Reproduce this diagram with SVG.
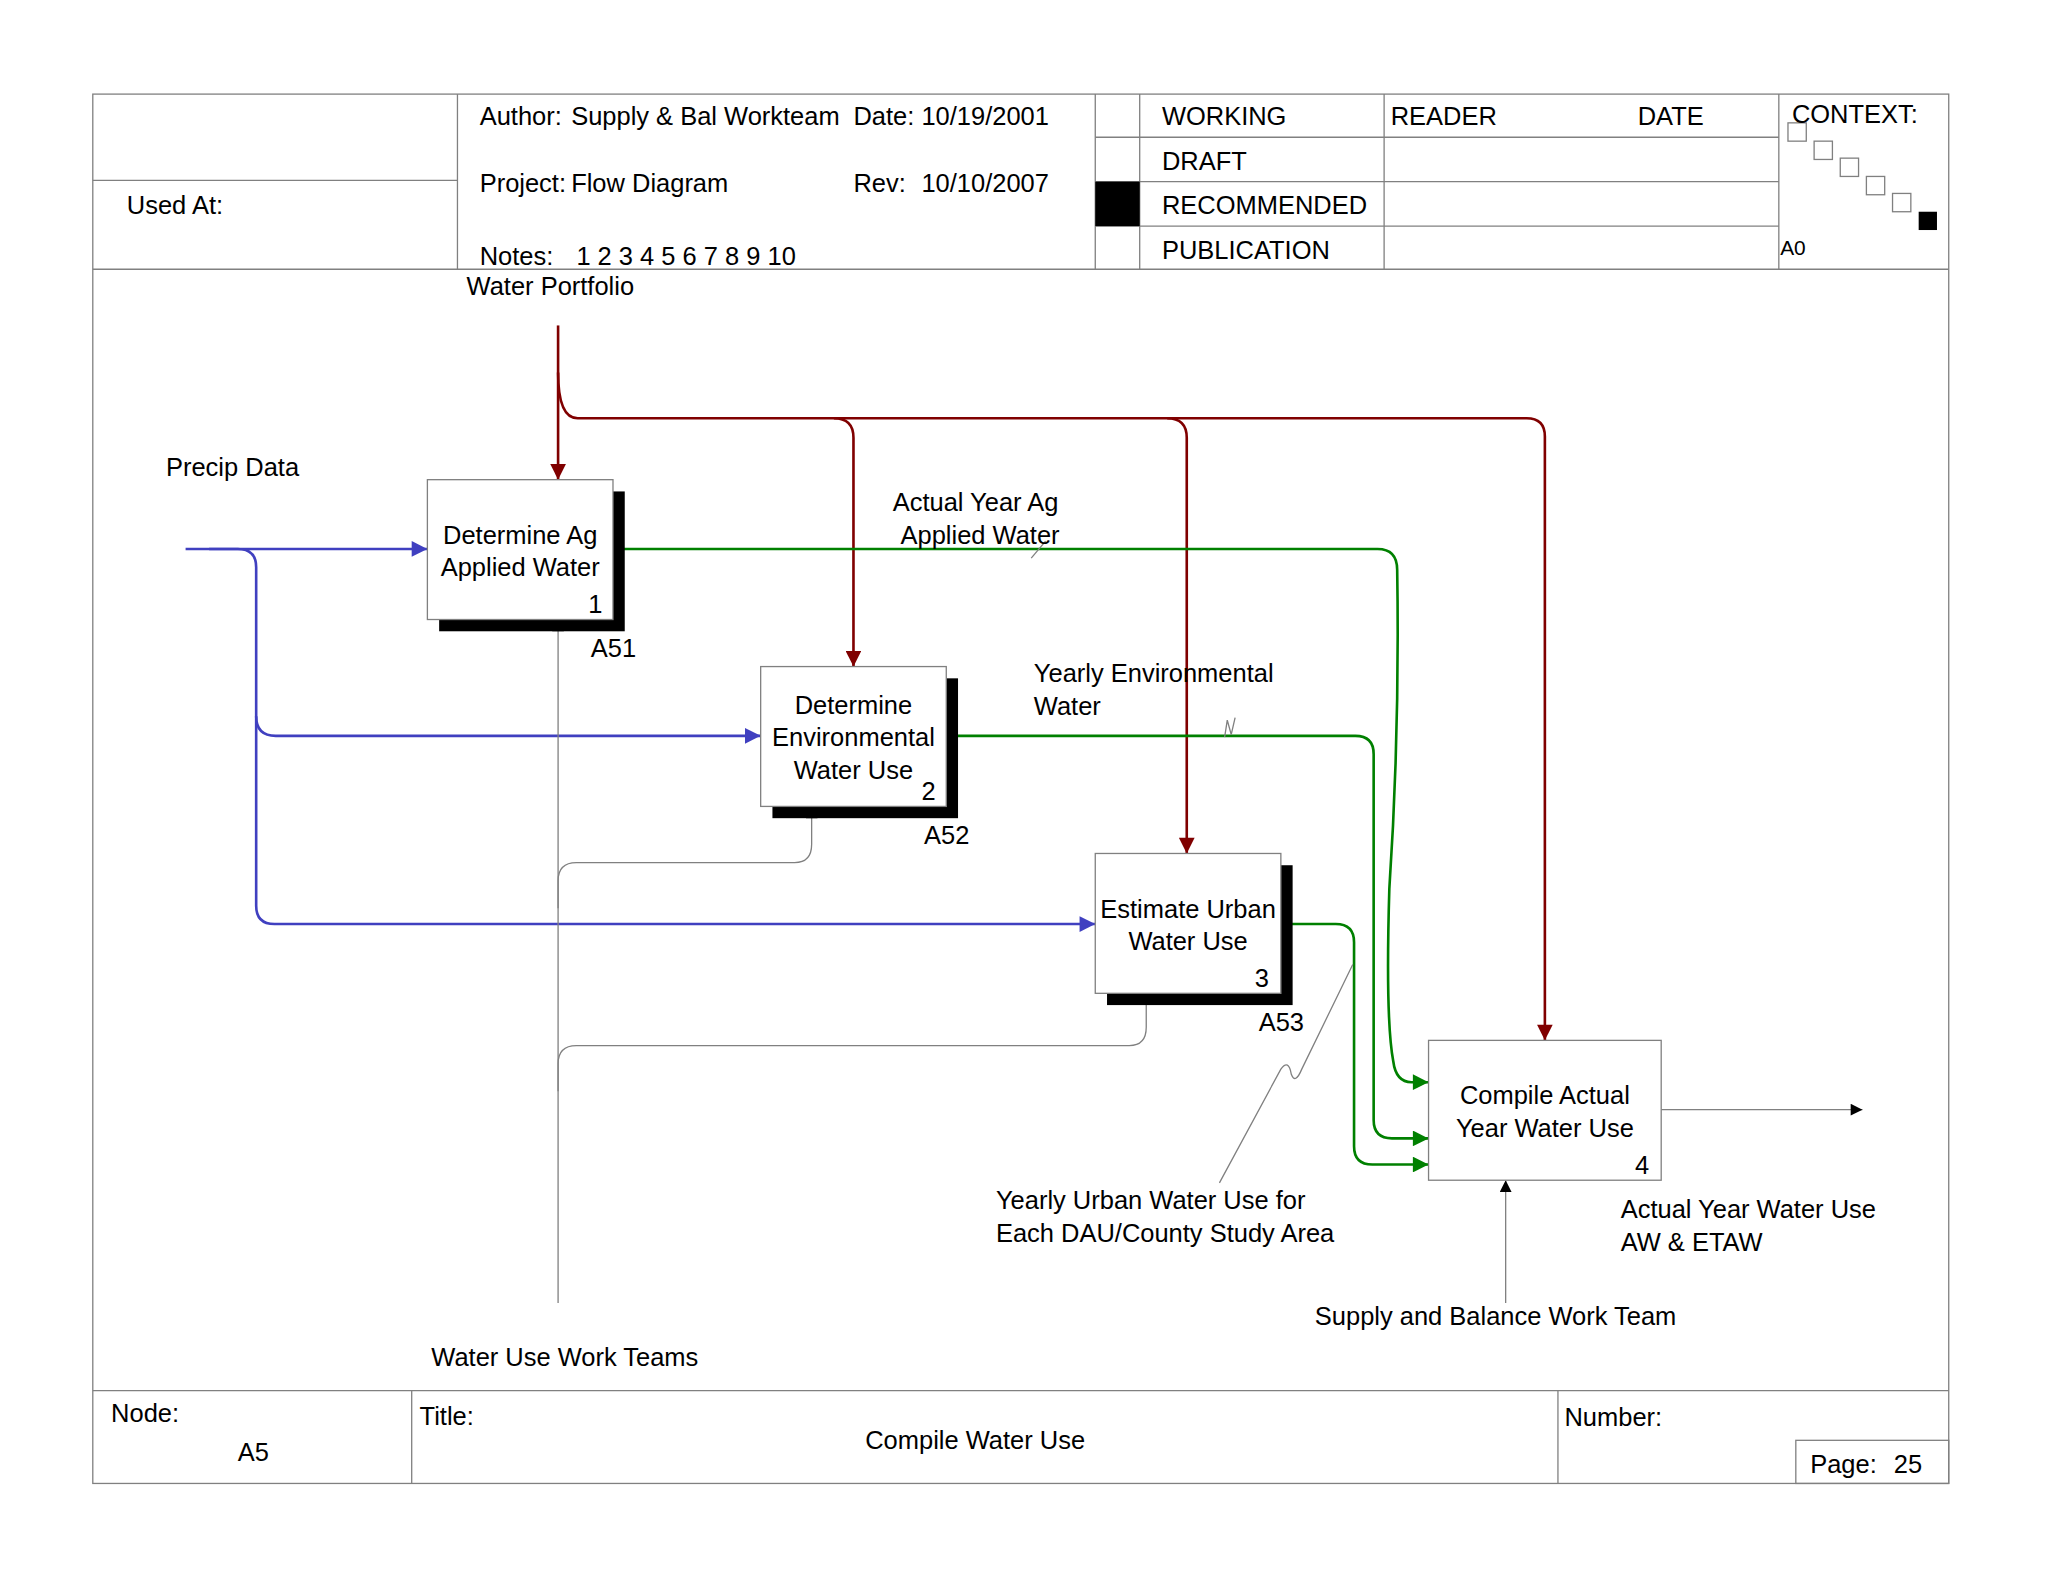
<svg xmlns="http://www.w3.org/2000/svg" width="2048" height="1582" viewBox="0 0 2048 1582">
<style>
text{font-family:"Liberation Sans",Arial,sans-serif;font-size:19.5px;fill:#000}
.c{text-anchor:middle}
.fr{fill:none;stroke:#808080;stroke-width:1}
.box{fill:#fff;stroke:#808080;stroke-width:1}
.red{fill:none;stroke:#800000;stroke-width:2}
.blue{fill:none;stroke:#4040C0;stroke-width:2}
.green{fill:none;stroke:#008000;stroke-width:2}
.gray{fill:none;stroke:#808080;stroke-width:1}
</style>
<defs>
<marker id="ar" viewBox="0 0 10 10" refX="10" refY="5" markerWidth="14" markerHeight="12" markerUnits="userSpaceOnUse" orient="auto"><path d="M0,0L10,5L0,10z" fill="#800000"/></marker>
<marker id="ab" viewBox="0 0 10 10" refX="10" refY="5" markerWidth="14" markerHeight="12" markerUnits="userSpaceOnUse" orient="auto"><path d="M0,0L10,5L0,10z" fill="#4040C0"/></marker>
<marker id="ag" viewBox="0 0 10 10" refX="10" refY="5" markerWidth="14" markerHeight="12" markerUnits="userSpaceOnUse" orient="auto"><path d="M0,0L10,5L0,10z" fill="#008000"/></marker>
<marker id="ak" viewBox="0 0 10 10" refX="10" refY="5" markerWidth="11" markerHeight="9" markerUnits="userSpaceOnUse" orient="auto"><path d="M0,0L10,5L0,10z" fill="#000"/></marker>
</defs>
<rect width="2048" height="1582" fill="#fff"/>
<g transform="scale(1.307)">
<g id="header">
<rect class="fr" x="71" y="72" width="1420" height="1063"/>
<line class="fr" x1="71" y1="206" x2="1491" y2="206"/>
<line class="fr" x1="71" y1="138" x2="350" y2="138"/>
<line class="fr" x1="350" y1="72" x2="350" y2="206"/>
<line class="fr" x1="838" y1="72" x2="838" y2="206"/>
<line class="fr" x1="872" y1="72" x2="872" y2="206"/>
<line class="fr" x1="1059" y1="72" x2="1059" y2="206"/>
<line class="fr" x1="1361" y1="72" x2="1361" y2="206"/>
<line class="fr" x1="838" y1="105" x2="1361" y2="105"/>
<line class="fr" x1="838" y1="139" x2="1361" y2="139"/>
<line class="fr" x1="838" y1="173" x2="1361" y2="173"/>
<rect x="838" y="139" width="34" height="34" fill="#000"/>
<rect class="fr" x="1368" y="94" width="14" height="14"/>
<rect class="fr" x="1388" y="108" width="14" height="14"/>
<rect class="fr" x="1408" y="121" width="14" height="14"/>
<rect class="fr" x="1428" y="135" width="14" height="14"/>
<rect class="fr" x="1448" y="148" width="14" height="14"/>
<rect x="1468" y="162" width="14" height="14" fill="#000"/>
<text x="367" y="96">Author:</text><text x="437" y="96">Supply &amp; Bal Workteam</text>
<text x="653" y="96">Date: 10/19/2001</text>
<text x="367" y="147">Project:</text><text x="437" y="147">Flow Diagram</text>
<text x="653" y="147">Rev:</text><text x="705" y="147">10/10/2007</text>
<text x="367" y="203">Notes:</text><text x="441" y="203">1 2 3 4 5 6 7 8 9 10</text>
<text x="97" y="164">Used At:</text>
<text x="889" y="96">WORKING</text><text x="889" y="130">DRAFT</text>
<text x="889" y="164">RECOMMENDED</text><text x="889" y="198">PUBLICATION</text>
<text x="1064" y="96">READER</text><text x="1253" y="96">DATE</text>
<text x="1371" y="94">CONTEXT:</text>
<text x="1362" y="195" style="font-size:16px">A0</text>
</g>
<g id="footer">
<line class="fr" x1="71" y1="1064" x2="1491" y2="1064"/>
<line class="fr" x1="315" y1="1064" x2="315" y2="1135"/>
<line class="fr" x1="1192" y1="1064" x2="1192" y2="1135"/>
<rect class="fr" x="1374" y="1102" width="117" height="33"/>
<text x="85" y="1088">Node:</text><text x="182" y="1118">A5</text>
<text x="321" y="1090">Title:</text><text x="662" y="1109">Compile Water Use</text>
<text x="1197" y="1091">Number:</text><text x="1385" y="1127">Page:</text><text x="1449" y="1127">25</text>
</g>
<g id="connectors">
<path class="red" d="M427,249V367" marker-end="url(#ar)"/>
<path class="red" d="M427,285Q427,320 442,320H1168Q1182,320 1182,334V796" marker-end="url(#ar)"/>
<path class="red" d="M638,320Q653,320 653,335V510" marker-end="url(#ar)"/>
<path class="red" d="M893,320Q908,320 908,335V653" marker-end="url(#ar)"/>
<path class="blue" d="M142,420H327" marker-end="url(#ab)"/>
<path class="blue" d="M160,420H182Q196,420 196,434V693Q196,707 210,707H838" marker-end="url(#ab)"/>
<path class="blue" d="M196,548Q196,563 211,563H582" marker-end="url(#ab)"/>
<path class="green" d="M469,420H1054Q1069,420 1069,436Q1071,560 1063,680Q1060,780 1066,812Q1068,828 1080,828H1093" marker-end="url(#ag)"/>
<path class="green" d="M724,563H1037Q1051,563 1051,577V857Q1051,871 1065,871H1093" marker-end="url(#ag)"/>
<path class="green" d="M980,707H1022Q1036,707 1036,721V877Q1036,891 1050,891H1093" marker-end="url(#ag)"/>
<path class="gray" d="M1271,849H1425" marker-end="url(#ak)"/>
<path class="gray" d="M1152,997V903" marker-end="url(#ak)"/>
<path class="gray" d="M427,997V474" marker-end="url(#ak)"/>
<path class="gray" d="M427,695V674Q427,660 441,660H608Q621,660 621,646V617" marker-end="url(#ak)"/>
<path class="gray" d="M427,835V814Q427,800 441,800H864Q877,800 877,786V760" marker-end="url(#ak)"/>
<path class="gray" d="M933,905L980,818Q986,810 988,822Q991,830 996,818L1035,738"/>
<path class="gray" d="M789,427L800,414"/>
<path class="gray" d="M937,564L939,551L942,562L945,549"/>
</g>
<g id="node1">
<rect x="336" y="376" width="142" height="107" fill="#000"/>
<rect class="box" x="327" y="367" width="142" height="107"/>
<text class="c" x="398" y="416">Determine Ag</text><text class="c" x="398" y="441">Applied Water</text>
<text x="450" y="469">1</text><text x="452" y="503">A51</text>
</g>
<g id="node2">
<rect x="591" y="519" width="142" height="107" fill="#000"/>
<rect class="box" x="582" y="510" width="142" height="107"/>
<text class="c" x="653" y="546">Determine</text><text class="c" x="653" y="571">Environmental</text><text class="c" x="653" y="596">Water Use</text>
<text x="705" y="612">2</text><text x="707" y="646">A52</text>
</g>
<g id="node3">
<rect x="847" y="662" width="142" height="107" fill="#000"/>
<rect class="box" x="838" y="653" width="142" height="107"/>
<text class="c" x="909" y="702">Estimate Urban</text><text class="c" x="909" y="727">Water Use</text>
<text x="960" y="755">3</text><text x="963" y="789">A53</text>
</g>
<g id="node4">
<rect class="box" x="1093" y="796" width="178" height="107"/>
<text class="c" x="1182" y="845">Compile Actual</text><text class="c" x="1182" y="870">Year Water Use</text>
<text x="1251" y="898">4</text>
</g>
<g id="labels">
<text x="357" y="226">Water Portfolio</text>
<text x="127" y="364">Precip Data</text>
<text x="683" y="391">Actual Year Ag</text><text x="689" y="416">Applied Water</text>
<text x="791" y="522">Yearly Environmental</text><text x="791" y="547">Water</text>
<text x="762" y="925">Yearly Urban Water Use for</text><text x="762" y="950">Each DAU/County Study Area</text>
<text x="1240" y="932">Actual Year Water Use</text><text x="1240" y="957">AW &amp; ETAW</text>
<text x="1006" y="1014">Supply and Balance Work Team</text>
<text x="330" y="1045">Water Use Work Teams</text>
</g>
</g>
</svg>
